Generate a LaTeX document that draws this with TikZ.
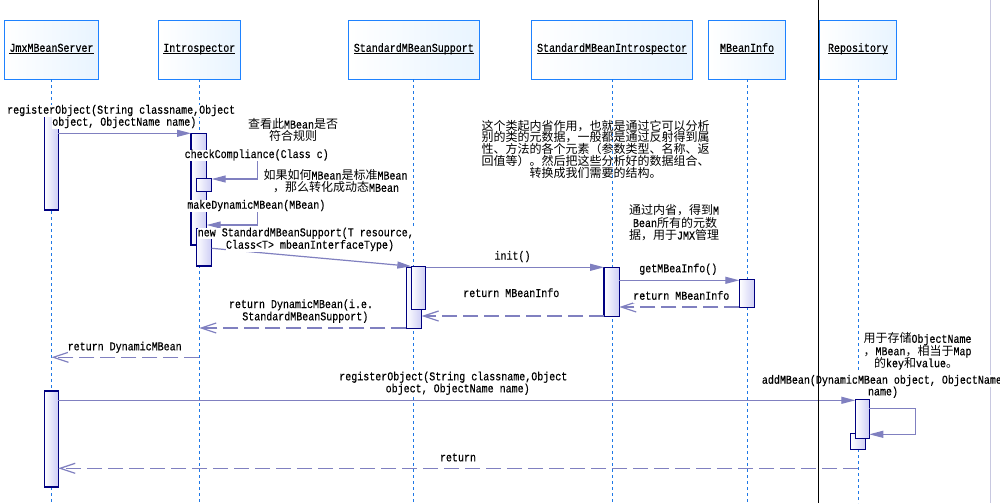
\documentclass[tikz,border=0pt]{standalone}
\usepackage{fontspec}
\setmainfont{Liberation Mono}[FakeStretch=0.8333,FakeBold=0.4]
\newfontfamily\cjkf{Noto Sans CJK SC}
\usetikzlibrary{arrows.meta}
\newcommand\zhc[1]{{\cjkf\fontsize{12pt}{12pt}\selectfont #1}}
\newcommand\ulx[1]{\setbox0\hbox{#1}\rlap{\vrule width\wd0 height -1.2pt depth 2.1pt}\box0}
\definecolor{lifeblue}{RGB}{30,120,230}
\definecolor{hdrborder}{RGB}{30,130,255}
\definecolor{msgcol}{RGB}{128,128,192}
\definecolor{actborder}{RGB}{0,0,128}
\definecolor{actfill}{RGB}{205,205,245}
\definecolor{hdrfill}{RGB}{232,244,255}
\definecolor{sepgray}{RGB}{200,200,224}
\begin{document}
\begin{tikzpicture}[x=1pt,y=-1pt,
  mfont/.style={font=\fontsize{12pt}{12pt}\selectfont},
  hdr/.style={draw=hdrborder, line width=1.3pt, left color=white, right color=hdrfill,
    minimum height=59pt, inner sep=0pt, outer sep=0pt, text height=7pt, text depth=3pt, mfont},
  act/.style={draw=actborder, line width=1.2pt, left color=white, right color=actfill,
    inner sep=0pt, outer sep=0pt},
  lifeline/.style={draw=lifeblue, line width=1pt, dash pattern=on 3pt off 3pt},
  msg/.style={draw=msgcol, line width=1.2pt, -{Triangle[length=14pt,width=7pt]}},
  ret/.style={draw=msgcol, line width=1.2pt, dash pattern=on 15pt off 6pt,
    -{Straight Barb[length=15pt,width=10pt]}},
  lbl/.style={anchor=base, inner sep=0pt, fill=white, text height=8.5pt, text depth=3pt, mfont},
  lblw/.style={lbl, anchor=base west},
  note/.style={anchor=base, inner sep=0pt, mfont}]
\useasboundingbox (0,0) rectangle (1000,503);
\fill[white] (0,0) rectangle (1000,503);
\coordinate (bot) at (0,503);
% separator (grey)
\draw[sepgray, line width=1pt] (990,0) -- (990,503);
% headers
\node[hdr, minimum width=94pt] (hJ) at (51.5,49.8) {\ulx{JmxMBeanServer}};
\node[hdr, minimum width=82pt] (hI) at (199.3,49.8) {\ulx{Introspector}};
\node[hdr, minimum width=131pt] (hS) at (413.8,49.8) {\ulx{StandardMBeanSupport}};
\node[hdr, minimum width=161pt] (hSI) at (612.1,49.8) {\ulx{StandardMBeanIntrospector}};
\node[hdr, minimum width=77pt] (hM) at (747.1,49.8) {\ulx{MBeanInfo}};
\node[hdr, minimum width=77pt] (hR) at (858,49.8) {\ulx{Repository}};
% lifelines
\draw[lifeline] (hJ.south) -- (hJ.south |- bot);
\draw[lifeline] (hI.south) -- (hI.south |- bot);
\draw[lifeline] (hS.south) -- (hS.south |- bot);
\draw[lifeline] (hSI.south) -- (hSI.south |- bot);
\draw[lifeline] (hM.south) -- (hM.south |- bot);
\draw[lifeline] (hR.south) -- (hR.south |- 0,371);
\draw[lifeline] (hR.south |- 0,449) -- (hR.south |- bot);
% activations
\node[act, minimum width=14pt, minimum height=100pt] (aJ1) at (51.3,160) {};
\node[act, minimum width=14pt, minimum height=96pt] (aJ2) at (51.3,439) {};
\node[act, minimum width=15.7pt, minimum height=111.7pt] (aI) at (198.85,189.15) {};
\node[act, minimum width=15.4pt, minimum height=13pt] (aIc) at (204,184.8) {};
\node[act, minimum width=15.4pt, minimum height=37.7pt] (aIn) at (204,247.15) {};
\node[act, minimum width=15.4pt, minimum height=61pt] (aSo) at (414,297.8) {};
\node[act, minimum width=14.4pt, minimum height=43pt] (aSi) at (418.5,287.8) {};
\node[act, minimum width=15.3pt, minimum height=49pt] (aSI) at (611.65,291.8) {};
\node[act, minimum width=15.4pt, minimum height=28pt] (aM) at (747,293.3) {};
\node[act, minimum width=15.4pt, minimum height=16pt] (aRs) at (858,441.3) {};
\node[act, minimum width=14pt, minimum height=39pt] (aR) at (862.3,418.8) {};
% messages
\draw[msg] (aJ1.east |- 0,133.3) -- (aI.west |- 0,133.3);
\draw[msg] (aI.east |- 0,155) -- (257.3,155) -- (257.3,179) -- (aIc.east |- 0,179);
\draw[msg] (aI.east |- 0,205.7) -- (257.3,205.7) -- (257.3,225) -- (aI.east |- 0,225);
\draw[msg] (aIn.east |- 0,248.3) -- (aSi.north west);
\draw[msg] (aSi.east |- 0,267.3) -- (aSI.west |- 0,267.3);
\draw[msg] (aSI.east |- 0,280.3) -- (aM.west |- 0,280.3);
\draw[ret] (aM.west |- 0,307) -- (aSI.east |- 0,307);
\draw[ret] (aSI.west |- 0,316) -- (aSo.east |- 0,316);
\draw[ret] (aSo.west |- 0,328) -- (hI.south |- 0,328);
\draw[ret] (hI.south |- 0,357.3) -- (hJ.south |- 0,357.3);
\draw[msg] (aJ2.east |- 0,400.3) -- (aR.west |- 0,400.3);
\draw[msg] (aR.east |- 0,408.3) -- (915.7,408.3) -- (915.7,434.3) -- (aR.east |- 0,434.3);
\draw[ret] (hR.south |- 0,468.3) -- (aJ2.east |- 0,468.3);
% message labels
\node[lbl] (reg1a) at (121.2,113.7) {registerObject(String classname,Object};
\node[lbl] (reg1b) at (124.3,125.7) {object, ObjectName name)};
\node[lbl] (chk) at (256.7,158) {checkCompliance(Class c)};
\node[lbl] (mkd) at (256.3,208.7) {makeDynamicMBean(MBean)};
\node[lbl] (newa) at (305.8,236.3) {new StandardMBeanSupport(T resource,};
\node[lbl] (newb) at (310,248.7) {Class<T> mbeanInterfaceType)};
\node[lbl] (init) at (512.5,259.7) {init()};
\node[lbl] (getmi) at (678.3,272.3) {getMBeaInfo()};
\node[lbl] (retmia) at (681.3,299.7) {return MBeanInfo};
\node[lbl] (retmib) at (511.3,297) {return MBeanInfo};
\node[lbl] (retdma) at (301,308) {return DynamicMBean(i.e.};
\node[lbl] (retdmb) at (305.3,320.3) {StandardMBeanSupport)};
\node[lbl] (retdm) at (124.7,350.3) {return DynamicMBean};
\node[lbl] (reg2a) at (453.3,380.3) {registerObject(String classname,Object};
\node[lbl] (reg2b) at (457.7,392.3) {object, ObjectName name)};
\node[lblw] (adda) at (761.7,383.7) {addMBean(DynamicMBean object, ObjectName};
\node[lbl] (addb) at (883,395.3) {name)};
\node[lbl] (retx) at (458,461.3) {return};
% notes
\node[note] (na1) at (293,128.5) {\zhc{查看此}MBean\zhc{是否}};
\node[note] (na2) at (293,140.5) {\zhc{符合规则}};
\node[note] (nb1) at (335.5,179.5) {\zhc{如果如何}MBean\zhc{是标准}MBean};
\node[note] (nb2) at (336,191.8) {\zhc{，那么转化成动态}MBean};
\node[note] (nc1) at (595.5,130) {\zhc{这个类起内省作用，也就是通过它可以分析}};
\node[note] (nc2) at (595.5,141.8) {\zhc{别的类的元数据，一般都是通过反射得到属}};
\node[note] (nc3) at (595.5,153.5) {\zhc{性、方法的各个元素（参数类型、名称、返}};
\node[note] (nc4) at (595.5,165.3) {\zhc{回值等）。然后把这些分析好的数据组合、}};
\node[note] (nc5) at (595.5,177) {\zhc{转换成我们需要的结构。}};
\node[note] (nd1) at (674,214.5) {\zhc{通过内省，得到}M};
\node[note] (nd2) at (675,227) {Bean\zhc{所有的元数}};
\node[note] (nd3) at (674,239.5) {\zhc{据，用于}JMX\zhc{管理}};
\node[note] (ne1) at (917.5,342.8) {\zhc{用于存储}ObjectName};
\node[note] (ne2) at (917.5,355.2) {\zhc{，}MBean\zhc{，相当于}Map};
\node[note] (ne3) at (916,367.2) {\zhc{的}key\zhc{和}value\zhc{。}};
% separator (black)
\draw[black, line width=1pt] (818.3,0) -- (818.3,503);
\end{tikzpicture}
\end{document}
